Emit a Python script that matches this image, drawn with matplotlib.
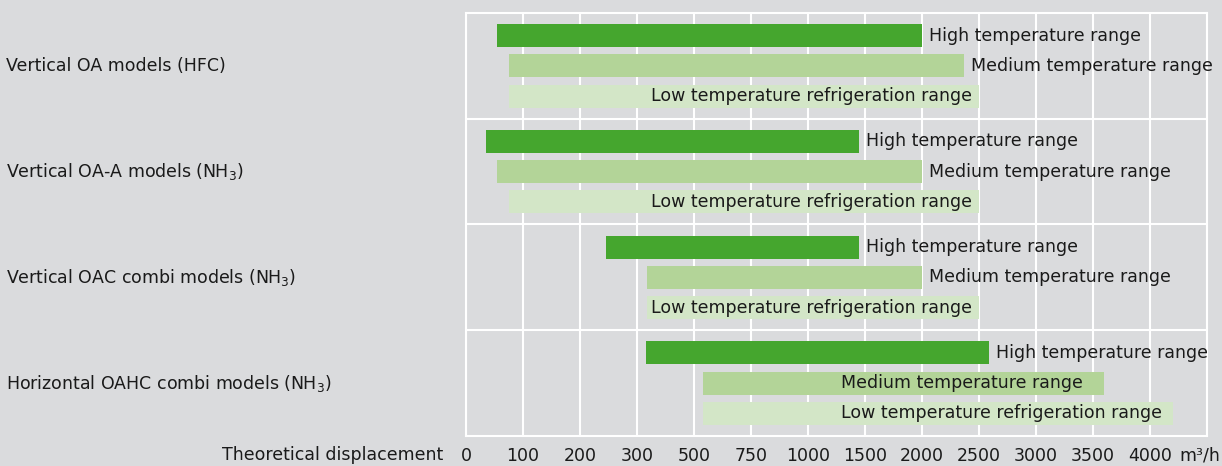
import numpy as np
import matplotlib
matplotlib.use('Agg')
import matplotlib.pyplot as plt
import matplotlib.transforms as mtransforms

#%% Data
categories = ['Vertical OA models (HFC)',
              'Vertical OA-A models (NH$_3$)',
              'Vertical OAC combi models (NH$_3$)',
              'Horizontal OAHC combi models (NH$_3$)']
ranges = ['High temperature range', 'Medium temperature range',
          'Low temperature refrigeration range']
starts = [[55, 75, 75],
          [35, 55, 75],
          [245, 335, 335],
          [330, 540, 540]]
ends = [[2000, 2370, 2500],
        [1450, 2000, 2500],
        [1450, 2000, 2500],
        [2590, 3600, 4200]]
tick_values = [0, 100, 200, 300, 500, 750, 1000, 1500, 2000, 2500, 3000, 3500, 4000, 4500]
tick_labels = ['0', '100', '200', '300', '500', '750', '1000', '1500', '2000',
               '2500', '3000', '3500', '4000', '']
unit = 'm³/h'

#%% Non-linear axis: each tick equally spaced
idx = np.arange(len(tick_values), dtype=float)
def fwd(v):
    return np.interp(v, tick_values, idx)
def inv(i):
    return np.interp(i, idx, tick_values)

bg = '#dadbdd'
colors = ['#45a62e', '#b3d498', '#d3e6c7']
txt = '#1a1a1a'
fs = 12.5

fig = plt.figure(figsize=(12.22, 4.66), dpi=100)
fig.patch.set_facecolor(bg)
ax = fig.add_axes([466/1222, 1 - 436/466, (1207 - 466)/1222, (436 - 13)/466])
ax.set_facecolor(bg)
ax.set_xscale('function', functions=(fwd, inv))
ax.set_xlim(0, 4500)

H = 3.5
ax.set_ylim(4 * H, 0)
ax.set_xticks(tick_values)
ax.set_xticklabels(tick_labels, fontsize=fs, color=txt)
ax.tick_params(axis='x', length=0, pad=8)
ax.set_yticks([H, 2 * H, 3 * H])
ax.set_yticklabels([])
ax.tick_params(axis='y', length=0)
ax.grid(True, color='white', lw=1.5)
ax.set_axisbelow(True)
for s in ax.spines.values():
    s.set_color('white')
    s.set_linewidth(1.5)

pad = mtransforms.ScaledTranslation(7/100, 0, fig.dpi_scale_trans)
npad = mtransforms.ScaledTranslation(-7/100, 0, fig.dpi_scale_trans)

for g in range(len(categories)):
    for i in range(3):
        y = g * H + 0.75 + i
        ax.barh(y, ends[g][i] - starts[g][i], left=starts[g][i], height=0.76,
                color=colors[i], zorder=2)
        if g == 3 and i > 0:
            ax.text(1290, y, ranges[i], ha='left', va='center', fontsize=fs, color=txt, zorder=3)
        elif i == 2:
            ax.text(ends[g][i], y, ranges[i], ha='right', va='center', fontsize=fs,
                    color=txt, zorder=3, transform=ax.transData + npad)
        else:
            ax.text(ends[g][i], y, ranges[i], ha='left', va='center', fontsize=fs,
                    color=txt, zorder=3, transform=ax.transData + pad)
    lt = mtransforms.blended_transform_factory(fig.transFigure, ax.transData)
    ax.text(6/1222, g * H + 1.75, categories[g], ha='left', va='center', fontsize=fs,
            color=txt, transform=lt, clip_on=False)

fig.text(443/1222, 1 - 455/466, 'Theoretical displacement', ha='right', va='center',
         fontsize=fs, color=txt)
fig.text(1220/1222, 1 - 455/466, unit, ha='right', va='center', fontsize=fs, color=txt)

plt.savefig('out.png', dpi=100, facecolor=bg)
